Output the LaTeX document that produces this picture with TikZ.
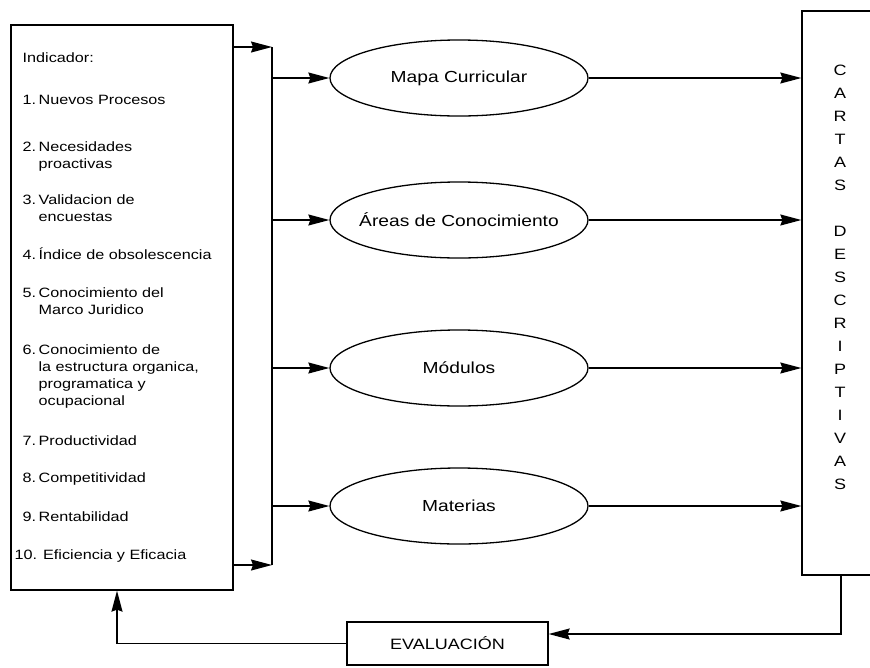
\documentclass[tikz,border=0pt]{standalone}
\usepackage{fontspec}
\setmainfont{Liberation Sans}[FakeStretch=1.2]
\usetikzlibrary{shapes.geometric,arrows.meta,calc}

% fixed-width slot for the list numbers, so the second lines hang under the text
\newcommand\itemnum[1]{\makebox[16pt][l]{#1}}
% label whose width does not enlarge the ellipse around it
\newcommand\ovaltext[1]{\makebox[0pt][c]{#1}}

\begin{document}
\begin{tikzpicture}[x=1pt,y=-1pt,
  line width=1.3pt,
  tip/.style={-{Stealth[length=21pt,width=11pt,inset=2pt]}},
  box/.style={draw, rectangle, inner sep=0pt},
  oval/.style={draw, ellipse, minimum width=258pt, minimum height=76pt,
    inner sep=0pt, font=\fontsize{16}{19}\selectfont},
  listitem/.style={anchor=north west, align=left, inner sep=0pt,
    font=\fontsize{13.5}{17}\selectfont},
]
\clip (0,0) rectangle (870,667);

% indicator list (each item placed by the top of its first line)
\node[box, minimum width=222pt, minimum height=565pt] (ind) at (122,307.5) {};
\node[listitem] (i0) at (22,52.5) {Indicador:};
\node[listitem] (i1) at (22,94.5) {\itemnum{1.}Nuevos Procesos};
\node[listitem] (i2) at (22,141.5) {\itemnum{2.}Necesidades\\\hspace*{16pt}proactivas};
\node[listitem] (i3) at (22,194.5) {\itemnum{3.}Validacion de\\\hspace*{16pt}encuestas};
\node[listitem] (i4) at (22,247.5) {\itemnum{4.}Índice de obsolescencia};
\node[listitem] (i5) at (22,287.5) {\itemnum{5.}Conocimiento del\\\hspace*{16pt}Marco Juridico};
\node[listitem] (i6) at (22,344.5) {\itemnum{6.}Conocimiento de\\\hspace*{16pt}la estructura organica,\\\hspace*{16pt}programatica y\\\hspace*{16pt}ocupacional};
\node[listitem] (i7) at (22,435.5) {\itemnum{7.}Productividad};
\node[listitem] (i8) at (22,472.5) {\itemnum{8.}Competitividad};
\node[listitem] (i9) at (22,511.5) {\itemnum{9.}Rentabilidad};
\node[listitem] (i10) at (14,549.5) {10. Eficiencia y Eficacia};

% products
\node[oval] (m1) at (459,78) {\ovaltext{Mapa Curricular}};
\node[oval] (m2) at (459,220) {\ovaltext{Áreas de Conocimiento}};
\node[oval] (m3) at (459,368) {\ovaltext{Módulos}};
\node[oval] (m4) at (459,506) {\ovaltext{Materias}};

% descriptive charts
\node[box, minimum width=78pt, minimum height=564pt] (cartas) at (841,293) {};
\node[anchor=north, inner sep=0pt, align=center, font=\fontsize{15}{23}\selectfont]
  (cartastxt) at (840,64.5)
  {C\\A\\R\\T\\A\\S\\[23pt]D\\E\\S\\C\\R\\I\\P\\T\\I\\V\\A\\S};

% evaluation
\node[box, minimum width=201pt, minimum height=43pt, font=\fontsize{15}{18}\selectfont]
  (ev) at (447.5,643.5) {EVALUACIÓN};

% distribution bus
\coordinate (busT) at (272,47);
\coordinate (busB) at (272,565);
\draw[tip] (ind.east |- busT) -- (busT);
\draw[tip] (ind.east |- busB) -- (busB);
\draw (busT) -- (busB);
\foreach \m in {m1,m2,m3,m4}{
  \draw[tip] (busT |- \m.west) -- (\m.west);
  \draw[tip] (\m.east) -- (\m.east -| cartas.west);
}

% feedback loop
\coordinate (fbR) at (841,634);
\coordinate (fbL) at (117,643.5);
\draw[tip] (cartas.south) -- (fbR) -- (fbR -| ev.east);
\draw[tip] (ev.west) -- (fbL) -- (fbL |- ind.south);
\end{tikzpicture}
\end{document}
